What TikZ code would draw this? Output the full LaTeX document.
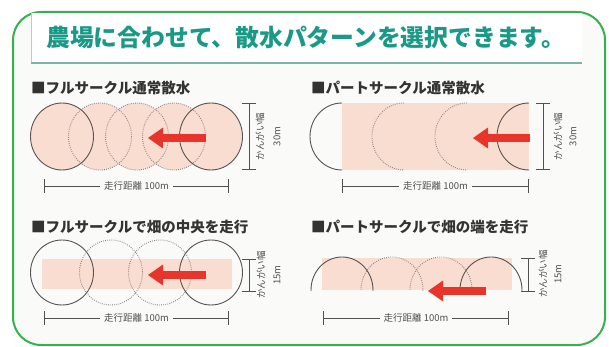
\documentclass[tikz,border=0pt]{standalone}
\usepackage{fontspec}
\newfontfamily\jp{Noto Sans CJK JP}
\usetikzlibrary{arrows.meta}
\definecolor{frameg}{HTML}{35B24C}
\definecolor{titlec}{HTML}{1A9A86}
\definecolor{tboxl}{HTML}{A6D6CE}
\definecolor{tboxb}{HTML}{7DB3AB}
\definecolor{bg}{HTML}{FAFAF9}
\definecolor{pinkc}{HTML}{F9DDD0}
\definecolor{circ}{HTML}{5A5252}
\definecolor{dotcol}{HTML}{8A8080}
\definecolor{arrowred}{HTML}{E8352B}
\definecolor{dimc}{HTML}{505050}
\definecolor{headc}{HTML}{333333}
\begin{document}
\begin{tikzpicture}[x=1pt,y=-1pt,
  every node/.style={font=\jp, inner sep=0pt},
  solidc/.style={draw=circ, line width=0.9pt},
  dotc/.style={draw=dotcol, line width=0.9pt, dash pattern=on 0.8pt off 1.3pt},
  redarrow/.style={draw=arrowred, line width=7.5pt, -{Triangle[length=15pt,width=21pt,line width=0pt]}},
  dimline/.style={draw=dimc, line width=0.8pt, {Bar[width=14pt]}-{Bar[width=14pt]}},
  dimlab/.style={font=\jp\fontsize{9.5}{11}\selectfont, text=dimc, fill=bg, inner xsep=4pt, inner ysep=1pt},
  vlab/.style={font=\jp\fontsize{9.5}{11}\selectfont, text=dimc, rotate=90},
  heading/.style={font=\jp\bfseries\fontsize{14.5}{16}\selectfont, text=headc, anchor=west},
]
\useasboundingbox (0,0) rectangle (609,347);
% frame
\draw[frameg, line width=2pt, fill=bg, rounded corners=28pt] (13,12) rectangle (605,345);
% title box
\fill[white] (31,13) rectangle (582,63);
\draw[tboxl, line width=0.8pt] (31,13) -- (31,63);
\draw[tboxb, line width=1.5pt] (31,63) -- (582,63);
\node[font=\jp\bfseries\fontsize{23.8}{28}\selectfont, text=titlec, anchor=west] (title) at (46,37) {農場に合わせて、散水パターンを選択できます。};

% ===== Panel 1 =====
\node[heading] (h1) at (31,88) {■フルサークル通常散水};
\foreach \cx in {62,100,137,174,211}{
  \fill[pinkc] (\cx,136.5) ellipse [x radius=31.5, y radius=33.5];
}
\draw[solidc] (62,136.5) ellipse [x radius=31.5, y radius=33.5];
\foreach \cx in {100,137,174}{
  \draw[dotc] (\cx,136.5) ellipse [x radius=31.5, y radius=33.5];
}
\draw[solidc] (211,136.5) ellipse [x radius=31.5, y radius=33.5];
\coordinate (a1s) at (206,138);
\coordinate (a1e) at (148,138);
\draw[redarrow] (a1s) -- (a1e);
\coordinate (v1a) at (249,103);
\coordinate (v1b) at (249,170);
\draw[dimline] (v1a) -- (v1b);
\node[vlab] (v1l) at (260,136.5) {かんがい幅};
\node[vlab] (v1m) at (277,136.5) {30m};
\coordinate (d1a) at (44,186);
\coordinate (d1b) at (229,186);
\draw[dimline] (d1a) -- (d1b) node[dimlab, midway] (d1l) {走行距離 100m};

% ===== Panel 2 =====
\node[heading] (h2) at (311,88) {■パートサークル通常散水};
\fill[pinkc] (342,103) rectangle (529,170);
\begin{scope}
  \clip (300,95) rectangle (342,180);
  \draw[solidc] (342,136.5) ellipse [x radius=32, y radius=33.5];
\end{scope}
\foreach \cx in {404,467}{
  \begin{scope}
    \clip (\cx-40,95) rectangle (\cx,180);
    \draw[dotc] (\cx,136.5) ellipse [x radius=32, y radius=33.5];
  \end{scope}
}
\begin{scope}
  \clip (480,95) rectangle (529,180);
  \draw[solidc] (529,136.5) ellipse [x radius=32, y radius=33.5];
\end{scope}
\coordinate (a2s) at (530,138);
\coordinate (a2e) at (473,138);
\draw[redarrow] (a2s) -- (a2e);
\coordinate (v2a) at (543,103);
\coordinate (v2b) at (543,170);
\draw[dimline] (v2a) -- (v2b);
\node[vlab] (v2l) at (558,136.5) {かんがい幅};
\node[vlab] (v2m) at (573,136.5) {30m};
\coordinate (d2a) at (342,186);
\coordinate (d2b) at (529,186);
\draw[dimline] (d2a) -- (d2b) node[dimlab, midway] (d2l) {走行距離 100m};

% ===== Panel 3 =====
\node[heading] (h3) at (31,227) {■フルサークルで畑の中央を走行};
\fill[pinkc] (42,259) rectangle (232,289);
\draw[solidc] (62,272.5) ellipse [x radius=31.5, y radius=32.5];
\foreach \cx in {111,160}{
  \draw[dotc] (\cx,272.5) ellipse [x radius=31.5, y radius=32.5];
}
\draw[solidc] (211,272.5) ellipse [x radius=31.5, y radius=32.5];
\coordinate (a3s) at (206,275);
\coordinate (a3e) at (148,275);
\draw[redarrow] (a3s) -- (a3e);
\coordinate (v3a) at (249,259);
\coordinate (v3b) at (249,292);
\draw[dimline] (v3a) -- (v3b);
\node[vlab] (v3l) at (261,275) {かんがい幅};
\node[vlab] (v3m) at (277,275) {15m};
\coordinate (d3a) at (44,318);
\coordinate (d3b) at (229,318);
\draw[dimline] (d3a) -- (d3b) node[dimlab, midway] (d3l) {走行距離 100m};

% ===== Panel 4 =====
\node[heading] (h4) at (311,227) {■パートサークルで畑の端を走行};
\fill[pinkc] (322,258) rectangle (512,290);
\begin{scope}
  \clip (300,240) rectangle (600,290);
  \draw[solidc] (342,290) ellipse [x radius=31, y radius=33];
  \draw[dotc] (392,290) ellipse [x radius=31, y radius=33];
  \draw[dotc] (441,290) ellipse [x radius=31, y radius=33];
  \draw[solidc] (491,290) ellipse [x radius=31, y radius=33];
\end{scope}
\coordinate (a4s) at (486,291);
\coordinate (a4e) at (428,291);
\draw[redarrow] (a4s) -- (a4e);
\coordinate (v4a) at (528,258);
\coordinate (v4b) at (528,292);
\draw[dimline] (v4a) -- (v4b);
\node[vlab] (v4l) at (543,274) {かんがい幅};
\node[vlab] (v4m) at (558,274) {15m};
\coordinate (d4a) at (323,318);
\coordinate (d4b) at (509,318);
\draw[dimline] (d4a) -- (d4b) node[dimlab, midway] (d4l) {走行距離 100m};
\end{tikzpicture}
\end{document}
